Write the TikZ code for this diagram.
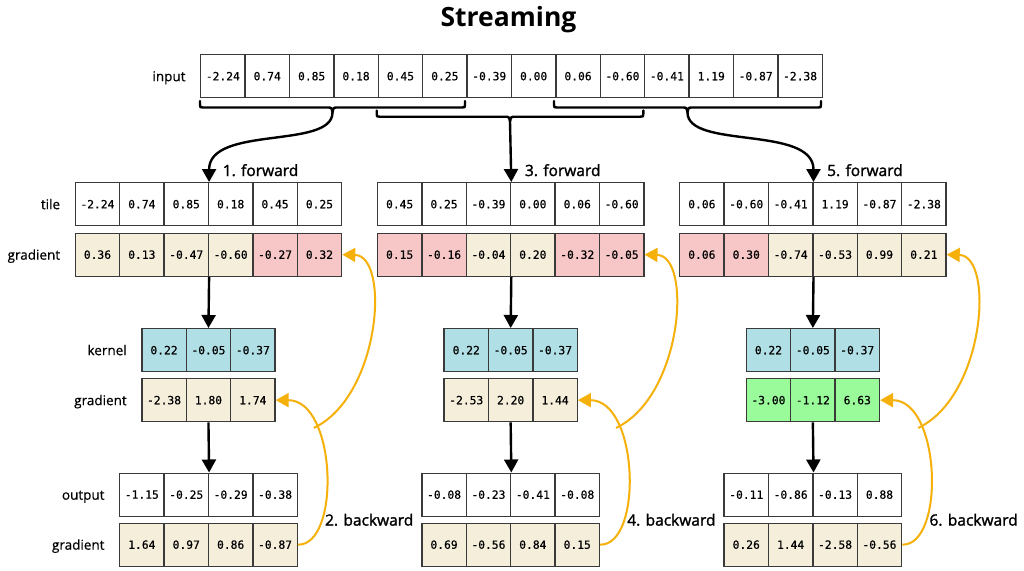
\documentclass[tikz,border=0pt]{standalone}
\usepackage{fontspec}
\setmainfont{Open Sans}
\newfontfamily\monofont[FakeBold=0.6]{DejaVu Sans Mono}
\newfontfamily\medfont[FakeBold=1.6]{Open Sans}
\newfontfamily\lblfont[FakeBold=0.4]{Open Sans}
\usetikzlibrary{arrows.meta,calc,backgrounds}

\definecolor{cw}{HTML}{FFFFFF}
\definecolor{cc}{HTML}{F5EEDB}
\definecolor{cp}{HTML}{F7C7C7}
\definecolor{cb}{HTML}{B0E0E6}
\definecolor{cg}{HTML}{99FB99}
\definecolor{orng}{HTML}{F5B00A}
\definecolor{edge}{HTML}{3A3A3A}

\tikzset{
  cell/.style={draw=edge, line width=1.3pt, minimum width=44.4pt, minimum height=43pt,
    inner sep=0pt, anchor=north west, font=\monofont\fontsize{11.3}{13}\selectfont, text=black},
  lbl/.style={font=\lblfont\fontsize{13.5}{16}\selectfont, anchor=base east, inner sep=0pt},
  steplbl/.style={font=\medfont\fontsize{15.5}{18}\selectfont, anchor=base west, inner sep=0pt},
  fwd/.style={line width=2.4pt, -{Triangle[width=14pt,length=13pt]}},
  bwd/.style={draw=orng, line width=2pt, -{Triangle[width=14pt,length=13pt]}},
  bracestyle/.style={line width=2.4pt, line cap=round, line join=round},
  axisline/.style={line width=1.3pt},
}

\newcommand\cellrow[4]{%
  \foreach \vv/\kk [count=\i] in {#4} {
    \node[cell, fill=\kk] (#1-\i) at (#2+44.4*\i-44.4, #3) {\vv};
  }%
}

\newcommand\inbrace[5]{%
  \draw[bracestyle] (#1,#3) -- (#1,#4-3) .. controls (#1,#4) .. (#1+3,#4)
    -- ({(#1+#2)/2-5},#4) .. controls ({(#1+#2)/2-1},#4) .. ({(#1+#2)/2},#4+5) coordinate (#5)
    .. controls ({(#1+#2)/2+1},#4) .. ({(#1+#2)/2+5},#4)
    -- (#2-3,#4) .. controls (#2,#4) .. (#2,#4-3) -- (#2,#3);
}

\newcommand\stage[7]{%
  \cellrow{t#1}{#2-133.2}{182}{#3}
  \cellrow{tg#1}{#2-133.2}{232.5}{#4}
  \cellrow{k#1}{#2-66.6}{328}{0.22/cb,-0.05/cb,-0.37/cb}
  \cellrow{kg#1}{#2-66.6}{378}{#5}
  \cellrow{o#1}{#2-88.8}{472.5}{#6}
  \cellrow{og#1}{#2-88.8}{522.5}{#7}
  \begin{scope}[on background layer]
    \draw[axisline] (t#1-3.north east) -- (tg#1-3.south east);
    \draw[axisline] (k#1-2.north) -- (kg#1-2.south);
  \end{scope}
  \draw[fwd] (tg#1-3.south east) -- (k#1-2.north);
  \draw[fwd] (kg#1-2.south) -- (o#1-2.north east);
  \node[steplbl] (fl#1) at ($(t#1-3.north east)+(13.5,-6)$) {\number\numexpr2*#1-1\relax. forward};
  \node[steplbl] (bl#1) at ($(o#1-4.south east)+(27,8.8)$) {\number\numexpr2*#1\relax. backward};
  \draw[bwd] (og#1-4.east) .. controls +(43,1) and +(61,0) .. (kg#1-3.east) coordinate[pos=0.72] (br#1);
  \draw[bwd] (br#1) .. controls +(67,-32) and +(48,1) .. (tg#1-6.east);
}

\begin{document}
\begin{tikzpicture}[x=1pt,y=-1pt]
\fill[white] (0,0) rectangle (1024,570);
\useasboundingbox (0,0) rectangle (1024,570);

\node[font=\bfseries\fontsize{26.5}{30}\selectfont, anchor=base, inner sep=0pt] (title) at (508.5,27) {Streaming};

\cellrow{in}{200}{54}{-2.24/cw,0.74/cw,0.85/cw,0.18/cw,0.45/cw,0.25/cw,-0.39/cw,0.00/cw,0.06/cw,-0.60/cw,-0.41/cw,1.19/cw,-0.87/cw,-2.38/cw}
\node[lbl] (linput) at ($(in-1.west)+(-14.3,5)$) {input};

\inbrace{200}{465}{101}{107.5}{bt1}
\inbrace{376.7}{643.3}{110.5}{116.7}{bt2}
\inbrace{554}{821}{101}{107.5}{bt3}

\stage{1}{207.8}
  {-2.24/cw,0.74/cw,0.85/cw,0.18/cw,0.45/cw,0.25/cw}
  {0.36/cc,0.13/cc,-0.47/cc,-0.60/cc,-0.27/cp,0.32/cp}
  {-2.38/cc,1.80/cc,1.74/cc}
  {-1.15/cw,-0.25/cw,-0.29/cw,-0.38/cw}
  {1.64/cc,0.97/cc,0.86/cc,-0.87/cc}
\stage{2}{510}
  {0.45/cw,0.25/cw,-0.39/cw,0.00/cw,0.06/cw,-0.60/cw}
  {0.15/cp,-0.16/cp,-0.04/cc,0.20/cc,-0.32/cp,-0.05/cp}
  {-2.53/cc,2.20/cc,1.44/cc}
  {-0.08/cw,-0.23/cw,-0.41/cw,-0.08/cw}
  {0.69/cc,-0.56/cc,0.84/cc,0.15/cc}
\stage{3}{812.2}
  {0.06/cw,-0.60/cw,-0.41/cw,1.19/cw,-0.87/cw,-2.38/cw}
  {0.06/cp,0.30/cp,-0.74/cc,-0.53/cc,0.99/cc,0.21/cc}
  {-3.00/cg,-1.12/cg,6.63/cg}
  {-0.11/cw,-0.86/cw,-0.13/cw,0.88/cw}
  {0.26/cc,1.44/cc,-2.58/cc,-0.56/cc}

\draw[fwd] (bt1) .. controls +(0,37) and +(0,-57) .. (t1-3.north east);
\draw[fwd] (bt2) -- (t2-3.north east);
\draw[fwd] (bt3) .. controls +(0,37) and +(0,-57) .. (t3-3.north east);

\node[lbl] (ltile) at ($(t1-1.west)+(-14.3,5)$) {tile};
\node[lbl] (lgt) at ($(tg1-1.west)+(-14.3,5)$) {gradient};
\node[lbl] (lker) at ($(k1-1.west)+(-14.3,5)$) {kernel};
\node[lbl] (lgk) at ($(kg1-1.west)+(-14.3,5)$) {gradient};
\node[lbl] (lout) at ($(o1-1.west)+(-14.3,5)$) {output};
\node[lbl] (lgo) at ($(og1-1.west)+(-14.3,5)$) {gradient};
\end{tikzpicture}
\end{document}
